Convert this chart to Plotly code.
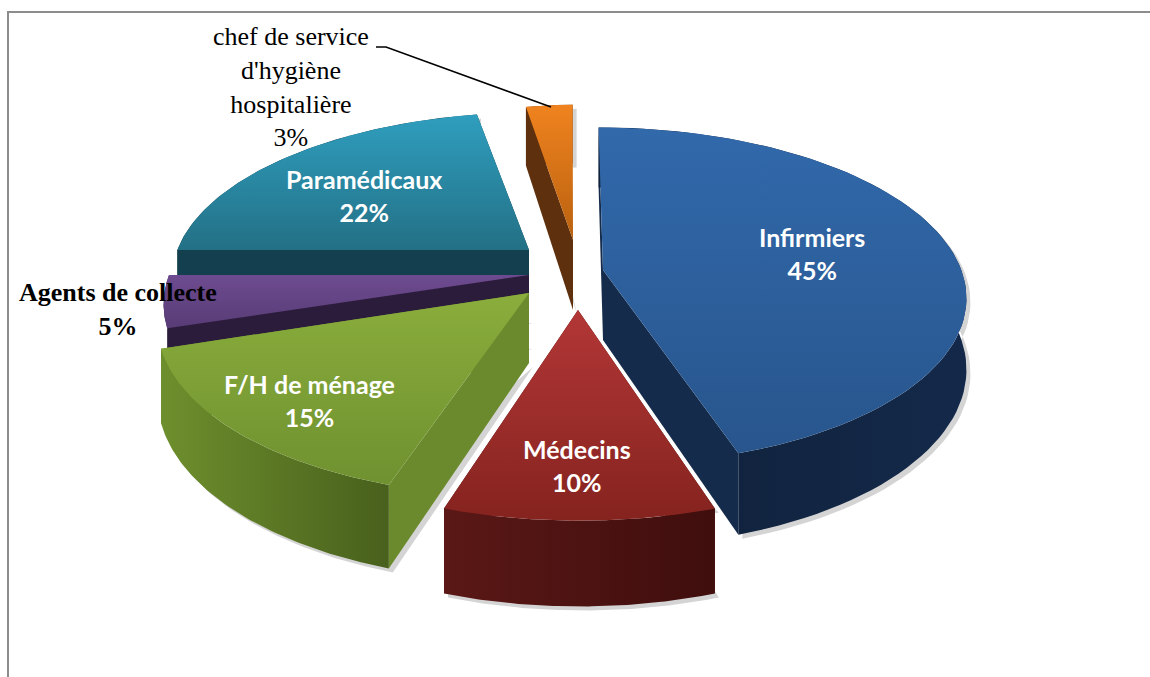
import numpy as np
import plotly.graph_objects as go

# slices, clockwise from 12 o'clock
categories = ["Infirmiers", "Médecins", "F/H de ménage", "Agents de collecte",
              "Paramédicaux", "chef de service<br>d'hygiène<br>hospitalière"]
values = [45, 10, 15, 5, 22, 3]

# top gradient (upper, lower), cut face, rim gradient (left, right)
top_colors = [("#3169ab", "#28558c"), ("#b23736", "#85231f"), ("#8aad3c", "#6f9130"),
              ("#6e4b90", "#583c76"), ("#2f9ebe", "#237085"), ("#f0831f", "#b9610f")]
cut_colors = ["#152b4b", "#4f1513", "#6a8a2d", "#2c1c3c", "#133f4e", "#5f300d"]
rim_colors = [("#0f2038", "#14294a"), ("#5a1816", "#3f0e0d"), ("#6e8f2d", "#48601c"),
              ("#2c1c3c", "#2c1c3c"), ("#133f4e", "#133f4e"), ("#5f300d", "#5f300d")]

# where each slice's point sits on the page once exploded
apex_x = [603, 578, 529, 529, 529, 573]
apex_y = [270, 310, 293, 275, 250, 240]
draw_order = [4, 3, 5, 2, 0, 1]
# the thin far slice looks narrower than the projection gives
x_squeeze = [1, 1, 1, 1, 1, 0.82]

label_x = [812, 577, 309, 118, 364, 291]
label_y = [253, 465, 400, 309, 195, 87]

# pie projection
CX, CY = 570, 278
RX, RY = 361, 167
PERSP = 0.155
DEPTH = 70
SHADOW = 4


def project(ax, ay, theta, squeeze=1):
    d = CY - ay
    wz0 = d / (RY - PERSP * d)
    wx0 = (ax - CX) / RX * (1 + PERSP * wz0)
    wx = wx0 + squeeze * np.sin(theta)
    wz = wz0 + np.cos(theta)
    s = 1 / (1 + PERSP * wz)
    return CX + RX * wx * s, CY - RY * wz * s, s


def poly(fig, x, y, colors, kind="vertical"):
    x = list(x) + [x[0]]
    y = list(y) + [y[0]]
    fig.add_trace(go.Scatter(
        x=x, y=y, mode="lines", line=dict(width=0), fill="toself",
        # plotly runs vertical gradients bottom to top
        fillgradient=dict(type=kind, colorscale=[[0, colors[1]], [1, colors[0]]]
                          if kind == "vertical" else [[0, colors[0]], [1, colors[1]]]),
        hoverinfo="skip", showlegend=False,
    ))


fig = go.Figure()

edges = np.cumsum([0] + values) / sum(values) * 2 * np.pi

for i in draw_order:
    a, b = edges[i], edges[i + 1]
    ax, ay = apex_x[i], apex_y[i]
    th = np.linspace(a, b, 80)
    px, py, ps = project(ax, ay, th, x_squeeze[i])
    wall = DEPTH * ps

    # soft grey shadow under the walls
    poly(fig,
         np.concatenate([[ax + SHADOW], px + SHADOW, (px + SHADOW)[::-1]]),
         np.concatenate([[ay + DEPTH + SHADOW], py + SHADOW, (py + wall + SHADOW)[::-1]]),
         ("#d4d4d4", "#d4d4d4"))
    # cut faces
    for k in (0, -1):
        poly(fig,
             [ax, px[k], px[k], ax],
             [ay, py[k], py[k] + wall[k], ay + DEPTH],
             (cut_colors[i], cut_colors[i]))
    # outer rim
    poly(fig,
         np.concatenate([px, px[::-1]]),
         np.concatenate([py, (py + wall)[::-1]]),
         rim_colors[i], "horizontal")
    # top face
    poly(fig,
         np.concatenate([[ax], px]),
         np.concatenate([[ay], py]),
         top_colors[i])

# labels
sans = dict(family="Lato", size=25, color="white")
serif = dict(family="Liberation Serif", size=26, color="black")
label_fonts = [sans, sans, sans, serif, sans, serif]
label_bold = [True, True, True, True, True, False]
for i in range(len(categories)):
    text = f"{categories[i]}<br>{values[i]}%"
    if label_bold[i]:
        text = f"<b>{text}</b>"
    fig.add_annotation(x=label_x[i], y=label_y[i], text=text, showarrow=False,
                       font=label_fonts[i], align="center")

fig.update_layout(
    width=1150, height=677,
    margin=dict(l=0, r=0, t=0, b=0),
    paper_bgcolor="white", plot_bgcolor="white",
    hovermode=False,
    xaxis=dict(range=[0, 1150], visible=False),
    yaxis=dict(range=[677, 0], visible=False),
    shapes=[
        # leader line to the small slice
        dict(type="path", path="M 376 47 L 386 47 L 551 107", line=dict(color="black", width=1.5)),
        # chart frame
        dict(type="path", path="M 8 677 L 8 12 L 1150 12", line=dict(color="#8c8c8c", width=2)),
    ],
)

fig.write_html("out.html", config=dict(displayModeBar=False),
               post_script="document.body.style.margin='0';")
